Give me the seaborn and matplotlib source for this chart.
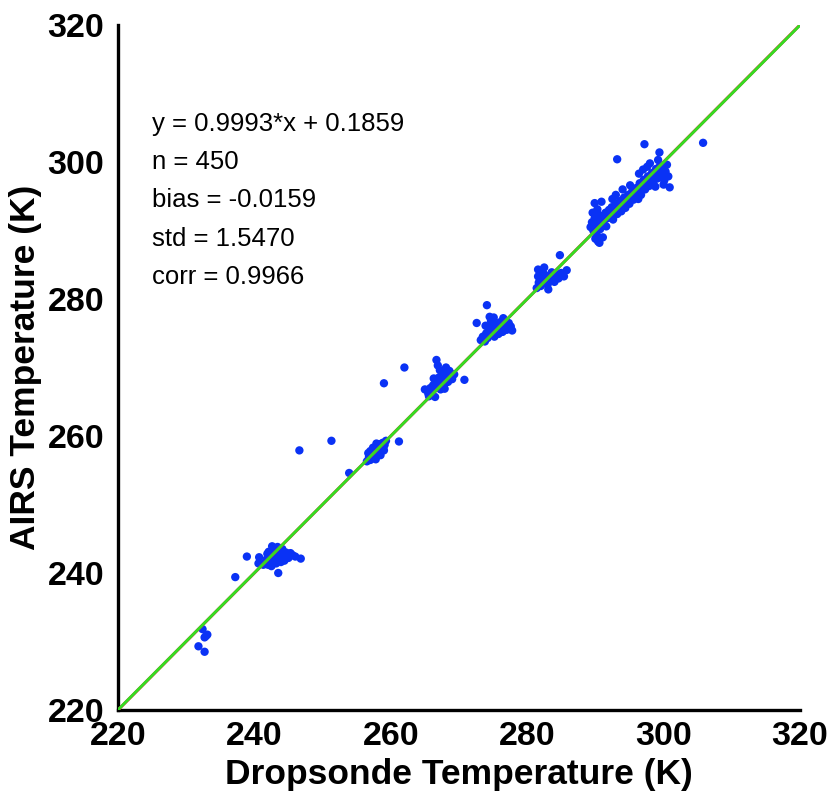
import numpy as np
import pandas as pd
import matplotlib
matplotlib.use("Agg")
import matplotlib.pyplot as plt
import seaborn as sns

# --- data (Dropsonde T, AIRS T) ---
c232_x = [232.4, 232.9, 232.7, 231.8, 232.7, 233.1]
c232_y = [231.8, 230.8, 230.6, 229.3, 228.5, 231.0]

c242_x = [237.2, 238.9, 240.7, 240.6, 242.6, 243.5, 245.6, 246.8, 245.0, 241.3,
          241.5, 241.8, 242.0, 242.2, 242.4, 242.6, 242.8, 243.0, 243.1, 243.3,
          243.5, 243.6, 243.8, 244.0, 244.1, 244.3, 244.5, 244.6, 244.8, 245.0,
          242.9, 243.2, 241.9, 242.5, 243.9, 244.4, 243.4, 242.1, 245.3, 246.0]
c242_y = [239.4, 242.4, 242.3, 241.4, 243.9, 240.0, 242.6, 242.1, 242.8, 241.2,
          241.5, 242.0, 241.2, 242.5, 241.8, 242.9, 242.2, 241.6, 243.0, 242.4,
          241.9, 243.3, 242.7, 242.1, 243.5, 242.8, 242.3, 243.0, 242.6, 242.2,
          243.4, 241.4, 242.8, 241.0, 241.6, 241.8, 243.8, 243.1, 242.9, 242.4]

c258_x = [246.6, 251.3, 253.9, 261.2,
          256.5, 256.8, 257.0, 257.2, 257.3, 257.5, 257.6, 257.8, 258.0, 258.1,
          258.3, 258.4, 258.6, 258.8, 258.9, 259.1, 259.3, 257.9, 257.0, 256.7,
          258.5, 259.0, 257.4]
c258_y = [257.9, 259.3, 254.6, 259.2,
          256.3, 256.9, 256.5, 257.3, 256.8, 257.8, 257.2, 256.6, 258.2, 257.5,
          258.8, 257.9, 258.5, 259.0, 258.2, 258.7, 259.3, 258.9, 257.8, 257.5,
          257.2, 257.9, 258.3]

c267_x = [259.0, 262.0, 266.7, 270.8,
          265.0, 265.5, 265.8, 266.0, 266.2, 266.4, 266.6, 266.8, 267.0, 267.1,
          267.3, 267.5, 267.6, 267.8, 268.0, 268.2, 268.4, 268.6, 268.8, 269.0,
          267.2, 266.9, 266.3, 267.9, 269.3, 268.1, 265.6, 266.5]
c267_y = [267.7, 270.0, 271.1, 268.2,
          266.8, 266.2, 267.0, 266.5, 267.4, 266.9, 268.0, 267.3, 268.5, 267.8,
          266.8, 268.9, 268.2, 267.5, 269.2, 268.6, 267.9, 269.5, 268.9, 268.3,
          269.6, 270.3, 268.4, 266.9, 269.0, 270.0, 265.8, 265.7]

c275_x = [274.1, 272.6, 274.5,
          273.2, 273.5, 273.8, 274.0, 274.2, 274.4, 274.6, 274.8, 275.0, 275.2,
          275.4, 275.6, 275.8, 276.0, 276.2, 276.4, 276.6, 276.8, 277.0, 277.3,
          277.6, 274.7, 275.1, 273.9, 276.5, 277.8]
c275_y = [279.1, 276.5, 277.4,
          274.0, 274.5, 273.8, 275.0, 274.3, 275.5, 274.8, 276.0, 275.2, 274.5,
          276.3, 275.6, 274.9, 276.6, 275.9, 275.2, 276.8, 276.1, 275.5, 276.5,
          276.0, 276.8, 277.3, 276.1, 277.2, 275.4]

c283_x = [284.8, 281.4, 281.7, 282.0, 282.2, 282.4, 282.6, 282.8, 283.0, 283.2,
          283.4, 283.6, 283.8, 284.0, 284.3, 284.6, 285.0, 285.4, 285.8, 282.3,
          283.1, 281.6, 281.6, 282.5]
c283_y = [286.4, 281.6, 282.4, 281.9, 283.0, 282.3, 283.5, 282.8, 282.1, 283.3,
          282.7, 283.9, 283.1, 282.5, 283.6, 283.0, 283.8, 283.3, 284.2, 283.9,
          281.4, 283.3, 284.3, 284.6]

c295_x = [290.6, 297.2, 293.2, 300.9, 305.8, 299.4, 290.4, 289.9, 290.9,
          289.3, 289.5, 289.7, 289.9, 290.1, 290.2, 290.4, 290.5, 290.7, 290.8,
          291.0, 291.1, 291.3, 291.5, 291.6, 291.8, 292.0, 290.3, 289.6, 290.0,
          292.2, 292.4, 292.6, 292.8, 293.0, 293.2, 293.4, 293.6, 293.8, 294.0,
          294.2, 294.4, 294.6, 294.8, 295.0, 295.2, 295.4, 295.6, 295.8, 296.0,
          293.0, 292.5, 294.0, 295.1, 296.3,
          296.3, 296.5, 296.7, 296.9, 297.1, 297.3, 297.5, 297.7, 297.9, 298.1,
          298.3, 298.5, 298.7, 298.9, 299.1, 299.3, 299.5, 299.7, 299.9, 300.1,
          300.3, 300.5, 300.7, 300.0, 298.0, 297.6, 299.2, 296.4, 298.8, 297.0]
c295_y = [288.2, 302.6, 300.4, 296.3, 302.8, 301.4, 288.4, 294.0, 294.2,
          290.5, 291.2, 290.0, 291.8, 290.6, 289.4, 291.4, 292.3, 290.2, 291.0,
          292.0, 289.0, 291.5, 292.6, 290.6, 291.8, 293.0, 293.1, 292.6, 288.8,
          292.2, 293.4, 291.6, 292.9, 293.9, 292.4, 293.4, 294.3, 292.8, 293.9,
          294.8, 293.3, 294.4, 295.2, 293.9, 294.8, 295.7, 294.5, 295.4, 296.2,
          295.2, 294.6, 296.0, 296.6, 294.6,
          295.8, 296.9, 295.2, 296.4, 297.4, 296.0, 296.9, 297.9, 296.5, 297.5,
          298.4, 297.0, 298.0, 299.0, 297.6, 298.6, 299.5, 298.1, 299.1, 297.3,
          298.6, 299.6, 297.9, 296.7, 299.8, 299.3, 300.3, 298.3, 296.4, 298.9]

slope, intercept = 0.9993, 0.1859
stats_lines = ["y = 0.9993*x + 0.1859", "n = 450", "bias = -0.0159",
               "std = 1.5470", "corr = 0.9966"]
ticks = [220, 240, 260, 280, 300, 320]

xs = c232_x + c242_x + c258_x + c267_x + c275_x + c283_x + c295_x
ys = c232_y + c242_y + c258_y + c267_y + c275_y + c283_y + c295_y
df = pd.DataFrame({"Dropsonde": xs, "AIRS": ys})

sns.set_style("white")
plt.rcParams["font.family"] = ["Liberation Sans", "DejaVu Sans"]
plt.rcParams["text.color"] = "black"
plt.rcParams["axes.labelcolor"] = "black"

fig = plt.figure(figsize=(8.35, 7.99), dpi=100)
ax = fig.add_axes([0.1413, 0.1114, 0.8167, 0.8573])

sns.scatterplot(data=df, x="Dropsonde", y="AIRS", ax=ax, color="#0a32f5",
                s=36, edgecolor="none", linewidth=0, zorder=2)

line_x = np.array([220, 320])
ax.plot(line_x, line_x, color="#d04030", lw=2.2, zorder=3)
ax.plot(line_x, slope * line_x + intercept, color="#33dd22", lw=2.0, zorder=4)

ax.set_xlim(220, 320)
ax.set_ylim(220, 320)
ax.set_xticks(ticks)
ax.set_yticks(ticks)
ax.set_xticklabels([str(t) for t in ticks], fontsize=24.5, fontweight="bold")
ax.set_yticklabels([str(t) for t in ticks], fontsize=24.5, fontweight="bold")
ax.tick_params(direction="in", length=8, width=2, pad=8, colors="black",
               labelcolor="black")
ax.tick_params(axis="y", pad=10)

for s in ["top", "right"]:
    ax.spines[s].set_visible(False)
for s in ["left", "bottom"]:
    ax.spines[s].set_linewidth(2.4)
    ax.spines[s].set_color("black")

ax.set_xlabel("Dropsonde Temperature (K)", fontsize=25.5, fontweight="bold",
              labelpad=4, color="black")
ax.set_ylabel("AIRS Temperature (K)", fontsize=25.5, fontweight="bold",
              labelpad=4, color="black")

for i, line in enumerate(stats_lines):
    ax.text(225.0, 305.6 - 5.6 * i, line, fontsize=18.5, va="center",
            ha="left", color="black")

fig.savefig("out.png", dpi=100)
